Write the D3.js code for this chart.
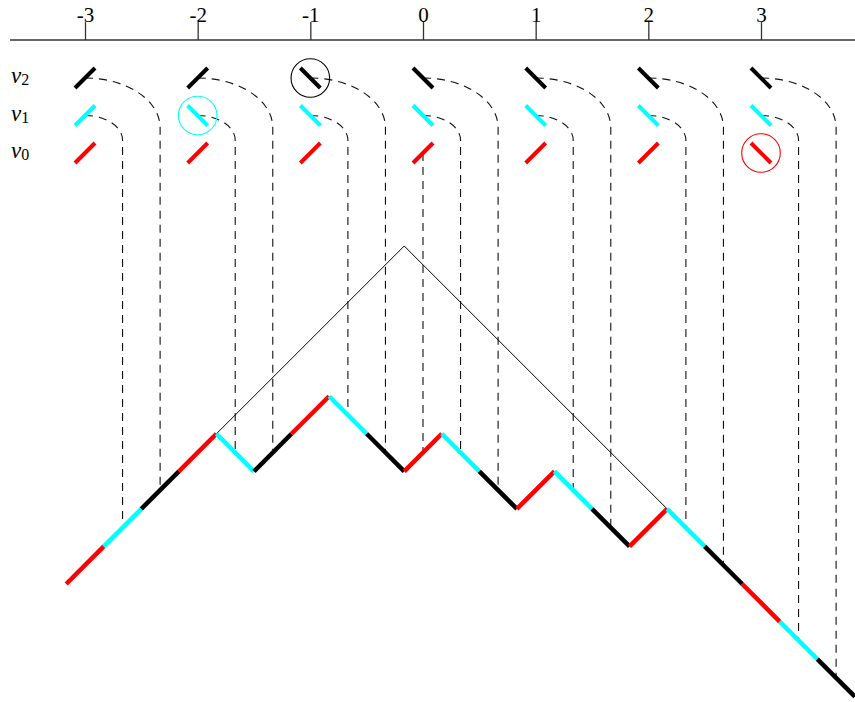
<!DOCTYPE html>
<html>
<head>
<meta charset="utf-8">
<script src="https://cdn.jsdelivr.net/npm/d3@7"></script>
<style>
  body { margin: 0; background: #fff; }
  svg { display: block; }
  .serif { font-family: 'Liberation Serif', 'Times New Roman', serif; }
</style>
</head>
<body>
<svg id="chart" width="855" height="702"></svg>
<script>
// Positions on the top axis and the three digit rows (+1 = up step, -1 = down step)
const positions = [-3, -2, -1, 0, 1, 2, 3];
const nu0 = [ 1,  1,  1,  1,  1,  1, -1];
const nu1 = [ 1, -1, -1, -1, -1, -1, -1];
const nu2 = [ 1,  1, -1, -1, -1, -1, -1];
const rowSubs = ['0', '1', '2'];
const rowColors = ['#ff0000', '#00ffff', '#000000'];

// Which positions get a dashed guide down to the path, per row
const guidesNu0 = [0];
const guidesNu1 = [-3, -2, -1, 0, 1, 2, 3];
const guidesNu2 = [-3, -2, -1, 0, 1, 2, 3];

// Circled digits: [row, position]
const circled = [[2, -1], [1, -2], [0, 3]];

// Thin envelope: [path vertex index, height]
const tentPoints = [[4, 4], [9, 9], [16, 2]];

const svg = d3.select('#chart');
const rows = [nu0, nu1, nu2];
const guides = [guidesNu0, guidesNu1, guidesNu2];

const x = d3.scaleLinear().domain([-3, 3]).range([85, 761]);
const w = (x(3) - x(-3)) / 18;                 // one step width
const vx = d3.scaleLinear().domain([0, 1]).range([x(-3) - w / 2, x(-3) + w / 2]);  // vertex index -> x
const hy = d3.scaleLinear().domain([0, 1]).range([584, 584 - w]);                  // height -> y
const rowY = d3.scaleLinear().domain([0, 2]).range([153, 78]);

// Interleave steps: for each position, nu0, nu1, nu2
const steps = [];
positions.forEach((k, j) => rows.forEach((r, ri) => steps.push({ k, row: ri, dir: r[j] })));
const heights = [0];
steps.forEach(s => heights.push(heights[heights.length - 1] + s.dir));
steps.forEach((s, i) => { s.i = i; s.h0 = heights[i]; s.h1 = heights[i + 1]; });

// Top axis
const axisG = svg.append('g').attr('transform', 'translate(0,40)')
    .call(d3.axisTop(x).tickValues(positions).tickSize(18).tickPadding(0).tickFormat(d => String(d)))
    .attr('font-family', null).attr('font-size', null);
axisG.select('.domain').remove();
axisG.selectAll('.tick line').attr('stroke', '#333').attr('stroke-width', 1.3);
axisG.selectAll('.tick text').attr('fill', '#000').attr('class', 'serif').attr('font-size', 21);
svg.append('line').attr('x1', 10).attr('x2', 855).attr('y1', 40).attr('y2', 40)
    .attr('stroke', '#333').attr('stroke-width', 1.5);

// Row labels
rowSubs.forEach((s, r) => {
    const t = svg.append('text').attr('class', 'serif').attr('x', 11).attr('y', rowY(r) + 5);
    t.append('tspan').attr('font-style', 'italic').attr('font-size', 23).text('ν');
    t.append('tspan').attr('dy', 2).attr('font-size', 16).text(s);
});

// Dashed guides from each digit down to the middle of its step on the path
const guideG = svg.append('g').attr('fill', 'none').attr('stroke', '#111')
    .attr('stroke-width', 1.1).attr('stroke-dasharray', '8,6');
guides.forEach((list, r) => {
    list.forEach(k => {
        const j = positions.indexOf(k);
        const s = steps[3 * j + r];
        const x0 = x(k), y0 = rowY(r);
        const dx = r * w, dy = r * w * 0.66;
        const yEnd = hy((s.h0 + s.h1) / 2);
        const p = d3.path();
        p.moveTo(x0, y0);
        if (r > 0) p.bezierCurveTo(x0 + dx * 0.5523, y0, x0 + dx, y0 + dy * (1 - 0.5523), x0 + dx, y0 + dy);
        p.lineTo(x0 + dx, yEnd);
        guideG.append('path').attr('d', p.toString());
    });
});

// Thin envelope
svg.append('path')
    .attr('d', d3.line().x(d => vx(d[0])).y(d => hy(d[1]))(tentPoints))
    .attr('fill', 'none').attr('stroke', '#000').attr('stroke-width', 1);

// Coloured path
svg.append('g').selectAll('line').data(steps).join('line')
    .attr('x1', d => vx(d.i)).attr('y1', d => hy(d.h0))
    .attr('x2', d => vx(d.i + 1)).attr('y2', d => hy(d.h1))
    .attr('stroke', d => rowColors[d.row]).attr('stroke-width', 4.5);

// Digit marks
const m = 10;
svg.append('g').selectAll('line').data(steps).join('line')
    .attr('x1', d => x(d.k) - m).attr('y1', d => rowY(d.row) + d.dir * m)
    .attr('x2', d => x(d.k) + m).attr('y2', d => rowY(d.row) - d.dir * m)
    .attr('stroke', d => rowColors[d.row]).attr('stroke-width', 4);

// Circles
svg.append('g').selectAll('circle').data(circled).join('circle')
    .attr('cx', d => x(d[1])).attr('cy', d => rowY(d[0])).attr('r', 19.3)
    .attr('fill', 'none').attr('stroke', d => rowColors[d[0]]).attr('stroke-width', 1.1);
</script>
</body>
</html>
